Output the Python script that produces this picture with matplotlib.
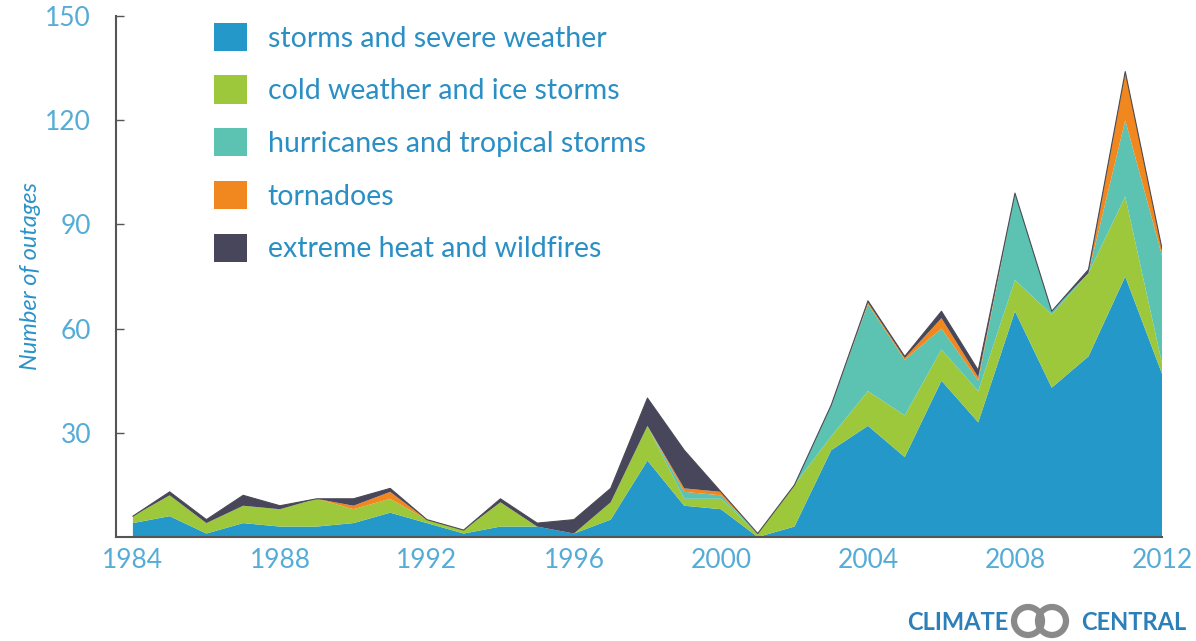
import matplotlib.pyplot as plt
from matplotlib.patches import Patch, Ellipse
import numpy as np

# данные: число отключений по годам и причинам
years = list(range(1984, 2013))
storms = [4, 6, 1, 4, 3, 3, 4, 7, 4, 1, 3, 3, 1, 5, 22, 9, 8, 0,
          3, 25, 32, 23, 45, 33, 65, 43, 52, 75, 47]
cold = [2, 6, 3, 5, 5, 8, 4, 4, 1, 1, 7, 0, 0, 5, 10, 2, 3, 1,
        12, 4, 10, 12, 9, 9, 9, 21, 24, 23, 3]
hurricanes = [0, 0, 0, 0, 0, 0, 0, 0, 0, 0, 0, 0, 0, 0, 0, 2, 1, 0,
              0, 9, 25, 16, 6, 3, 25, 1, 0, 22, 31]
tornadoes = [0, 0, 0, 0, 0, 0, 1, 2, 0, 0, 0, 0, 0, 0, 0, 1, 1, 0,
             0, 0, 0.5, 0.5, 3, 1, 0, 0, 0, 14, 2]
heat = [0, 1, 1, 3, 1, 0, 2, 1, 0, 0, 1, 1, 4, 4, 8, 11, 0, 0,
        0, 0, 0.5, 0.5, 2, 2, 0, 0, 1, 0, 0]

labels = ["storms and severe weather", "cold weather and ice storms",
          "hurricanes and tropical storms", "tornadoes",
          "extreme heat and wildfires"]
colours = ["#2398c9", "#9dc83b", "#5cc3b2", "#f0871f", "#47465a"]

fig = plt.figure(figsize=(11.96, 6.41), dpi=100)
ax = fig.add_axes([116 / 1196, 104 / 641, 1046 / 1196, 521 / 641])

series = [storms, cold, hurricanes, tornadoes, heat]
ax.stackplot(years, *series, colors=colours, linewidth=0)

# тонкая тёмная линия по верхнему краю
total = np.sum(np.array(series, dtype=float), axis=0)
ax.plot(years, total, color="#4a4a55", linewidth=0.8)

ax.set_xlim(1983.54, 2012)
ax.set_ylim(0, 150)
ax.set_xticks(range(1984, 2013, 4))
ax.set_yticks([30, 60, 90, 120, 150])

tick_col = "#55acd6"
ax.tick_params(axis="x", length=0, pad=8, labelsize=19, labelcolor=tick_col)
ax.tick_params(axis="y", direction="in", length=6, width=1, color="#555555",
               pad=18, labelsize=19, labelcolor=tick_col)
for lbl in ax.get_xticklabels() + ax.get_yticklabels():
    lbl.set_fontfamily("Lato")

for s in ["top", "right"]:
    ax.spines[s].set_visible(False)
for s in ["left", "bottom"]:
    ax.spines[s].set_color("#555555")
    ax.spines[s].set_linewidth(1.5)

ax.set_ylabel("Number of outages", fontsize=17, color="#2a93c9",
              style="italic", family="Lato", labelpad=3)

handles = [Patch(facecolor=c, edgecolor="none") for c in colours]
ax.legend(handles, labels, loc="upper left", bbox_to_anchor=(191 / 1196, 641 / 641),
          bbox_transform=fig.transFigure, frameon=False,
          prop={"family": "Lato", "size": 20.5}, labelcolor="#2a8fc4",
          handlelength=1.15, handleheight=1.15, labelspacing=0.84,
          handletextpad=0.75, borderpad=0.3)

# логотип
logo_col = "#2c7fb8"
fig.text(907 / 1196, 19 / 641, "CLIMATE", fontsize=17, fontweight="bold",
         color=logo_col, family="Lato", va="center", ha="left")
fig.text(1186 / 1196, 19 / 641, "CENTRAL", fontsize=17, fontweight="bold",
         color=logo_col, family="Lato", va="center", ha="right")
for cx in (1028, 1052):
    fig.patches.append(Ellipse((cx / 1196, 20 / 641), 28 / 1196, 28 / 641,
                               transform=fig.transFigure, facecolor="none",
                               edgecolor="#8a8a8a", linewidth=4.5))

plt.savefig("out.png", dpi=100)
